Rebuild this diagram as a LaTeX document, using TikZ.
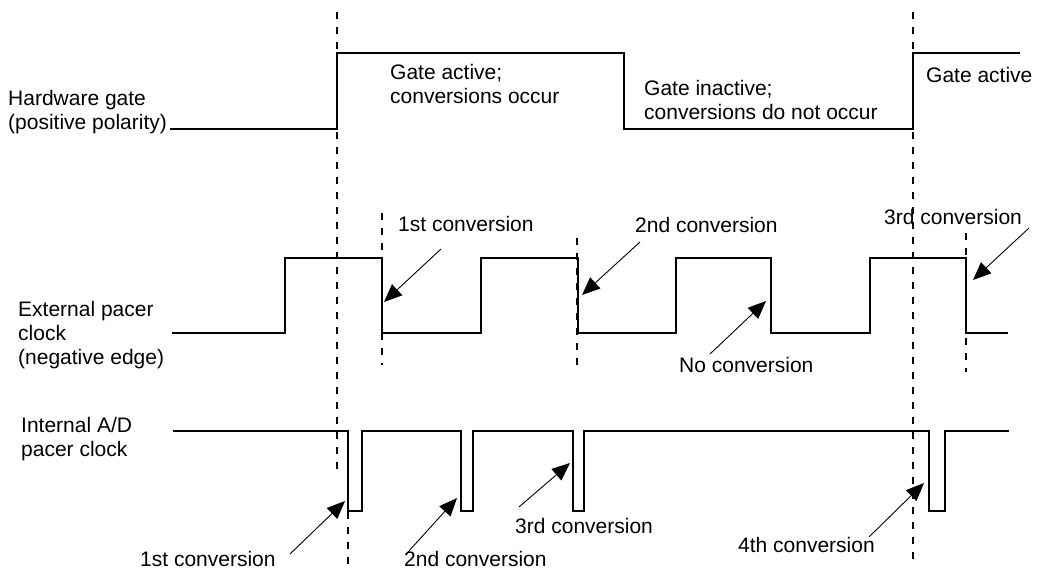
\documentclass[tikz,border=0pt]{standalone}
\usepackage{fontspec}
\setmainfont{Liberation Sans}
\usetikzlibrary{arrows.meta}

\tikzset{
  lbl/.style={anchor=west, align=left, inner sep=0pt, font=\fontsize{21}{24}\selectfont},
  sig/.style={line width=1.1pt},
  mark line/.style={line width=1.1pt, dash pattern=on 7pt off 8pt},
  ptr/.style={line width=0.9pt, -{Triangle[length=18pt,width=15pt]}}
}

\begin{document}
\begin{tikzpicture}[x=1pt,y=-1pt]
\useasboundingbox (0,0) rectangle (1037,572);
% signal names
\node (hwgate) [lbl] at (8,112.5) {Hardware gate\\(positive polarity)};
\node (extclk) [lbl] at (18,335.5) {External pacer\\clock\\(negative edge)};
\node (intclk) [lbl] at (21,439) {Internal A/D\\pacer clock};
% gate states
\node (gateon) [lbl] at (390,84) {Gate active;\\conversions occur};
\node (gateoff) [lbl] at (644,99.5) {Gate inactive;\\conversions do not occur};
\node (gateon2) [lbl] at (926,75) {Gate active};
% conversion labels
\node (c1top) [lbl] at (398,224) {1st conversion};
\node (c2top) [lbl] at (635,225) {2nd conversion};
\node (c3top) [lbl] at (884,216.5) {3rd conversion};
\node (nocnv) [lbl] at (679,365) {No conversion};
\node (c1bot) [lbl] at (140,559) {1st conversion};
\node (c2bot) [lbl] at (404,559) {2nd conversion};
\node (c3bot) [lbl] at (515,525.5) {3rd conversion};
\node (c4bot) [lbl] at (738,545) {4th conversion};
% waveforms
\draw [sig] (170,129) -| (337,53) -| (624,129) -| (913,53) -- (1020,53);
\draw [sig] (172,333) -| (285,258) -| (382,333) -| (481,258) -| (578,333)
  -| (676,258) -| (771,333) -| (870,258) -| (966,333) -- (1008,333);
\draw [sig] (173,431) -| (348,511) -| (362,431) -| (461,511) -| (473,431)
  -| (573,511) -| (584,431) -| (929,511) -| (945,431) -- (1009,431);
% gate edges and clock edges
\draw [mark line] (337,12) -- (337,475);
\draw [mark line] (348,512) -- (348,566);
\draw [mark line] (913,12) -- (913,566);
\draw [mark line] (382,213) -- (382,365);
\draw [mark line] (577,238) -- (577,367);
\draw [mark line] (966,233) -- (966,372);
% pointers
\coordinate (p1) at (441,249); \coordinate (e1) at (384,302);
\coordinate (p2) at (640,242); \coordinate (e2) at (582,295);
\coordinate (p3) at (1029,228); \coordinate (e3) at (973,280);
\coordinate (p4) at (710,354); \coordinate (e4) at (766,301);
\coordinate (p5) at (290,554); \coordinate (e5) at (345,501);
\coordinate (p6) at (408,552); \coordinate (e6) at (457,498);
\coordinate (p7) at (519,507); \coordinate (e7) at (570,463);
\coordinate (p8) at (869,537); \coordinate (e8) at (924,483);
\draw [ptr] (p1) -- (e1);
\draw [ptr] (p2) -- (e2);
\draw [ptr] (p3) -- (e3);
\draw [ptr] (p4) -- (e4);
\draw [ptr] (p5) -- (e5);
\draw [ptr] (p6) -- (e6);
\draw [ptr] (p7) -- (e7);
\draw [ptr] (p8) -- (e8);
\end{tikzpicture}
\end{document}
